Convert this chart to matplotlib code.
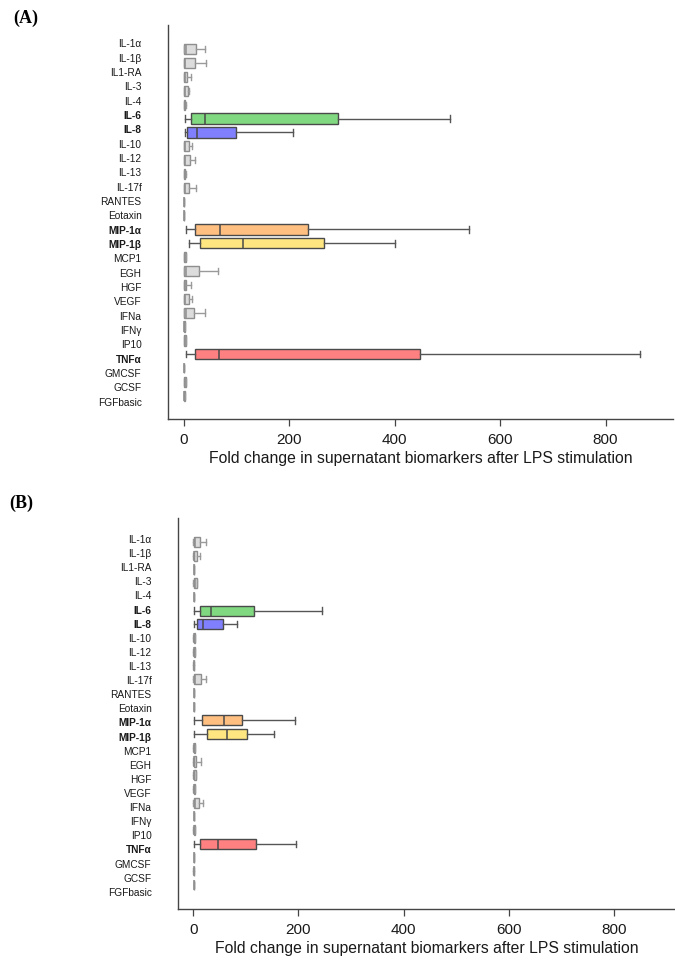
import matplotlib.pyplot as plt

plt.rcParams["font.family"] = ["Liberation Sans", "DejaVu Sans"]

# =====================================================
# Data: five-number summaries per biomarker (fold change)
# =====================================================

markers = [
    "IL-1α", "IL-1β", "IL1-RA", "IL-3", "IL-4", "IL-6", "IL-8", "IL-10",
    "IL-12", "IL-13", "IL-17f", "RANTES", "Eotaxin", "MIP-1α", "MIP-1β",
    "MCP1", "EGH", "HGF", "VEGF", "IFNa", "IFNγ", "IP10", "TNFα",
    "GMCSF", "GCSF", "FGFbasic",
]

highlight = {
    "IL-6": "#80d880",
    "IL-8": "#8080ff",
    "MIP-1α": "#ffbf80",
    "MIP-1β": "#ffe680",
    "TNFα": "#ff8080",
}

# panel A
a_low = [0, 0, 0, 0, 0, 2.5, 2, 0, 0, 0, 0, 0.5, 0.5, 5, 9,
         0, 0, 0, 0, 0, 0, 0, 5, 0.5, 0, 0]
a_q1 = [1, 1, 0.5, 0.5, 0.5, 13, 6, 1, 1, 0.5, 1, 0.5, 0.5, 21, 31,
        1, 1, 1, 1, 1, 0.5, 0.5, 21, 0.5, 1, 0.5]
a_med = [4, 3, 2, 3, 1.5, 41, 25, 2.5, 3, 1.5, 3, 0.5, 0.5, 68, 112,
         2, 4, 2, 2.5, 5, 1, 1.5, 66, 0.5, 2, 1]
a_q3 = [24, 22, 6, 8, 3, 293, 99, 9.5, 11, 3, 10, 0.5, 0.5, 236, 266,
        4, 29, 5, 9, 20, 2, 4, 448, 0.5, 4, 2]
a_high = [40, 43, 14, 9, 3.5, 505, 208, 16, 21, 3.5, 23, 0.5, 0.5, 541, 401,
          5, 64, 14, 16, 40, 2.5, 4.5, 865, 0.5, 5, 2.5]

# panel B
b_low = [0, 0, 0.5, 0, 0.5, 1, 1, 0, 0, 0, 0, 0.5, 0.5, 1, 1,
         0, 0, 0, 0, 0, 0.5, 0, 1, 0.5, 0, 0.5]
b_q1 = [1, 1, 0.5, 1, 0.5, 12, 7, 1, 1, 0.5, 1, 0.5, 0.5, 17, 27,
        1, 1, 1, 1, 1, 0.5, 1, 13, 0.5, 0.5, 0.5]
b_med = [3, 2, 0.5, 3, 0.5, 34, 19, 1.5, 2, 1, 3, 0.5, 0.5, 59, 65,
         2, 2, 2, 2, 3, 0.5, 1.5, 47, 0.5, 1, 0.5]
b_q3 = [12, 7, 1, 8, 1, 115, 57, 3, 4, 2, 14, 0.5, 0.5, 93, 102,
        4, 6, 5, 4, 11, 0.5, 3, 119, 0.5, 1.5, 0.5]
b_high = [24, 12, 1, 8, 1, 244, 83, 3, 4, 2, 24, 0.5, 0.5, 194, 153,
          4, 14, 6, 4, 19, 0.5, 3, 195, 0.5, 1.5, 0.5]

xticks = [0, 200, 400, 600, 800]
xlabel = "Fold change in supernatant biomarkers after LPS stimulation"

W, H = 675, 965
AXIS_COLOR = "#454545"


def px_rect(left, top, right, bottom):
    return [left / W, 1 - bottom / H, (right - left) / W, (bottom - top) / H]


def draw_panel(fig, rect, low, q1, med, q3, high, xlim, box_ylim, label_ylim,
               tag, tag_xy):
    ax = fig.add_axes(rect)

    stats = []
    for i, name in enumerate(markers):
        stats.append({
            "label": name,
            "whislo": low[i], "q1": q1[i], "med": med[i],
            "q3": q3[i], "whishi": high[i],
        })

    bp = ax.bxp(
        stats,
        positions=range(len(markers)),
        orientation="horizontal",
        widths=0.74,
        capwidths=0.46,
        patch_artist=True,
        showfliers=False,
        manage_ticks=False,
    )

    for i, name in enumerate(markers):
        if name in highlight:
            face, edge, wcol = highlight[name], "#4a4a4a", "#555555"
        else:
            face, edge, wcol = "#dcdcdc", "#8e8e8e", "#9a9a9a"
        bp["boxes"][i].set(facecolor=face, edgecolor=edge, linewidth=1.0)
        bp["medians"][i].set(color=edge, linewidth=1.1)
        for part in ("whiskers", "caps"):
            for ln in bp[part][2 * i:2 * i + 2]:
                ln.set(color=wcol, linewidth=1.0)

    ax.set_xlim(*xlim)
    ax.set_ylim(*box_ylim)
    ax.set_xticks(xticks)
    ax.set_yticks([])

    for side in ("top", "right"):
        ax.spines[side].set_visible(False)
    for side in ("left", "bottom"):
        ax.spines[side].set_color(AXIS_COLOR)
        ax.spines[side].set_linewidth(1.0)

    ax.tick_params(axis="x", length=5, width=0.9, color=AXIS_COLOR,
                   labelsize=11, pad=5, labelcolor="#1a1a1a")
    ax.set_xlabel(xlabel, fontsize=11.3, labelpad=3, color="#1a1a1a")

    # biomarker names sit on their own scale along the left side
    lab = ax.twinx()
    lab.set_ylim(*label_ylim)
    lab.yaxis.tick_left()
    lab.set_yticks(range(len(markers)))
    lab.set_yticklabels(markers, fontsize=7.3, color="#1a1a1a")
    lab.tick_params(axis="y", length=0, pad=19)
    for t, name in zip(lab.get_yticklabels(), markers):
        if name in highlight:
            t.set_fontweight("bold")
    for sp in lab.spines.values():
        sp.set_visible(False)

    fig.text(tag_xy[0] / W, 1 - tag_xy[1] / H, tag, fontsize=13,
             fontweight="bold", family="Liberation Serif",
             ha="center", va="center")
    return ax


fig = plt.figure(figsize=(6.75, 9.65), dpi=100)

draw_panel(fig, px_rect(168, 25, 673, 419),
           a_low, a_q1, a_med, a_q3, a_high,
           xlim=(-30, 928), box_ylim=(26.67, -1.75),
           label_ylim=(26.2, -1.28),
           tag="(A)", tag_xy=(26, 18))

draw_panel(fig, px_rect(178, 518, 675, 909),
           b_low, b_q1, b_med, b_q3, b_high,
           xlim=(-29, 916), box_ylim=(26.75, -1.75),
           label_ylim=(26.22, -1.49),
           tag="(B)", tag_xy=(21, 503))

fig.savefig("out.png", dpi=100)
